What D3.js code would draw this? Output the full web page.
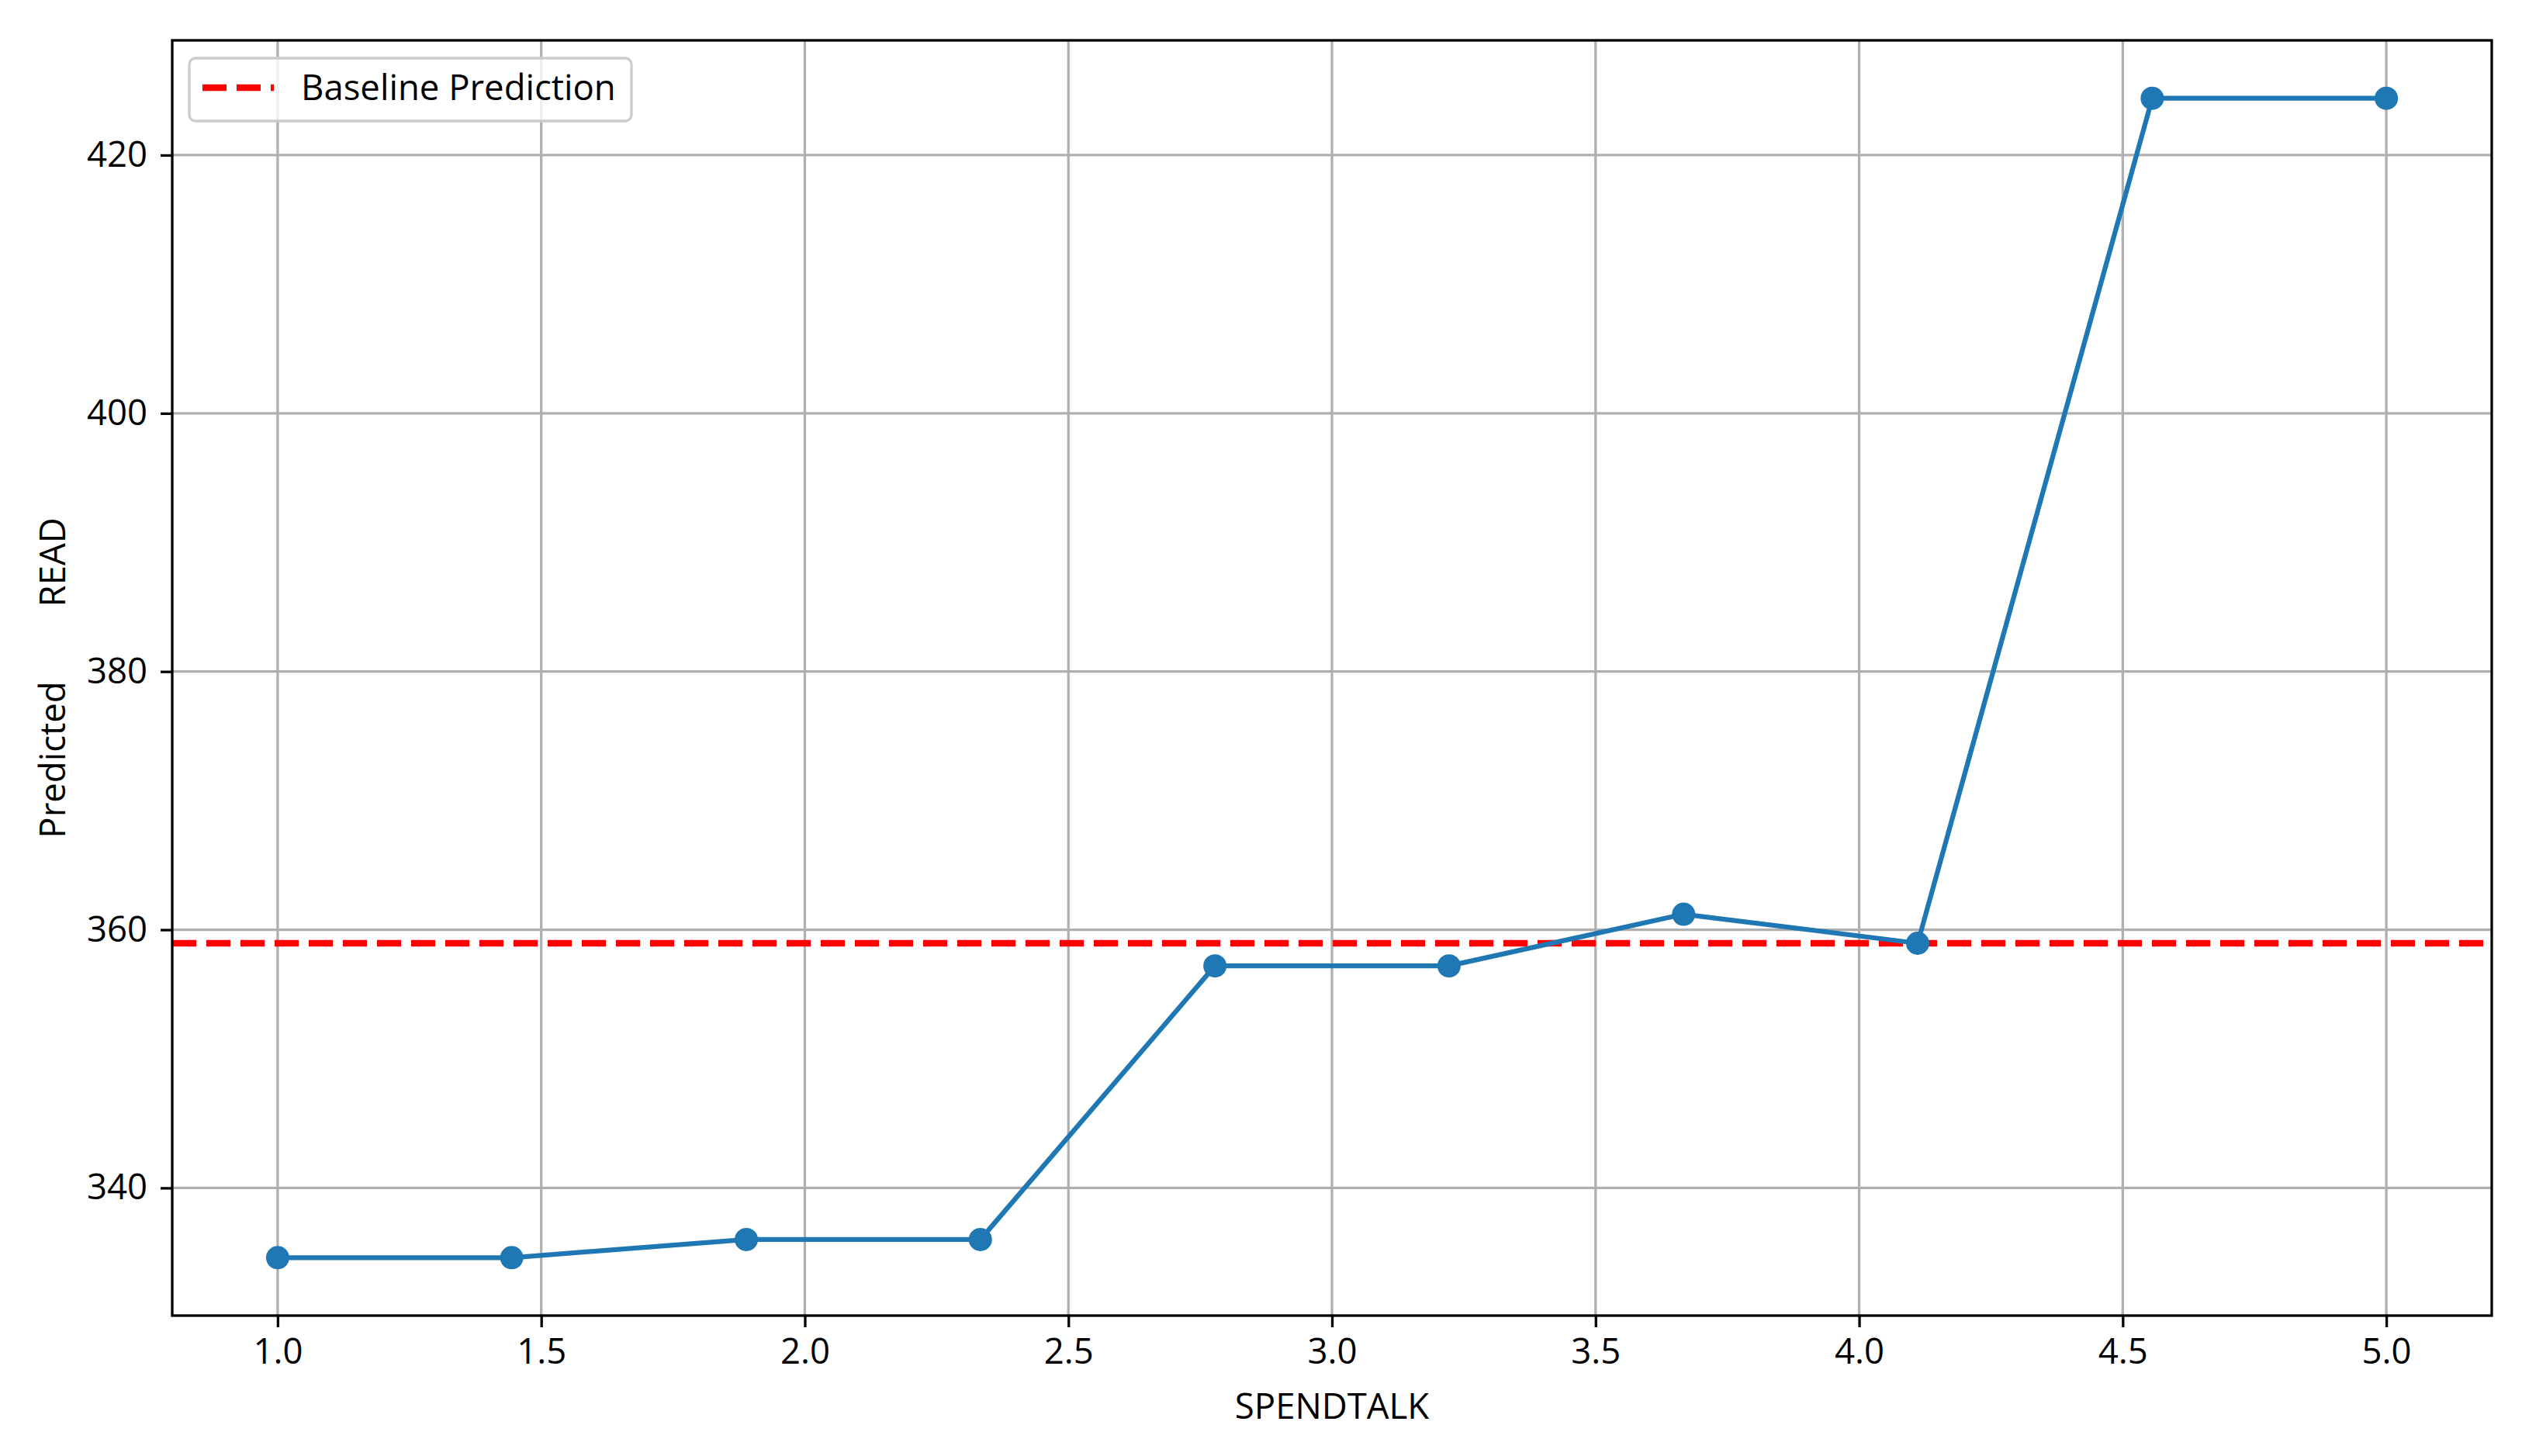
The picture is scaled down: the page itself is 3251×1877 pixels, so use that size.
<!DOCTYPE html>
<html>
<head>
<meta charset="utf-8">
<script src="https://cdn.jsdelivr.net/npm/d3@7/dist/d3.min.js"></script>
<style>
  html, body { margin: 0; padding: 0; background: #ffffff; }
  svg { display: block; }
  text { font-family: "Open Sans", "Noto Sans", sans-serif; fill: #000; }
</style>
</head>
<body>
<svg id="chart" width="3251" height="1877"></svg>
<script>
// ---- data ----
const spendtalk = [1.0, 1.444, 1.889, 2.333, 2.778, 3.222, 3.667, 4.111, 4.556, 5.0];
const predictedRead = [334.6, 334.6, 336.0, 336.0, 357.2, 357.2, 361.2, 358.95, 424.4, 424.4];
const baselinePrediction = 358.95;
const xTicks = [1.0, 1.5, 2.0, 2.5, 3.0, 3.5, 4.0, 4.5, 5.0];
const yTicks = [340, 360, 380, 400, 420];
const xLabel = "SPENDTALK";
const yLabelParts = ["Predicted", "READ"];
const legendLabel = "Baseline Prediction";

// ---- layout ----
const plot = { left: 222, right: 3212, top: 52, bottom: 1696 };
const blue = "#1f77b4";
const fontSize = 45.5;

const svg = d3.select("#chart");

const xMin = d3.min(spendtalk), xMax = d3.max(spendtalk);
const xPad = (xMax - xMin) * 0.05;
const yMin = d3.min(predictedRead), yMax = d3.max(predictedRead);
const yPad = (yMax - yMin) * 0.05;

const x = d3.scaleLinear().domain([xMin - xPad, xMax + xPad]).range([plot.left, plot.right]);
const y = d3.scaleLinear().domain([yMin - yPad, yMax + yPad]).range([plot.bottom, plot.top]);

// grid
const grid = svg.append("g");
grid.selectAll("line.vg").data(xTicks).enter().append("line")
  .attr("x1", d => x(d)).attr("x2", d => x(d))
  .attr("y1", plot.top).attr("y2", plot.bottom)
  .attr("stroke", "#b0b0b0").attr("stroke-width", 3.3);
grid.selectAll("line.hg").data(yTicks).enter().append("line")
  .attr("x1", plot.left).attr("x2", plot.right)
  .attr("y1", d => y(d)).attr("y2", d => y(d))
  .attr("stroke", "#b0b0b0").attr("stroke-width", 3.3);

// clip
svg.append("clipPath").attr("id", "clip").append("rect")
  .attr("x", plot.left).attr("y", plot.top)
  .attr("width", plot.right - plot.left).attr("height", plot.bottom - plot.top);

const content = svg.append("g").attr("clip-path", "url(#clip)");

// baseline
content.append("line")
  .attr("x1", plot.left).attr("x2", plot.right)
  .attr("y1", y(baselinePrediction)).attr("y2", y(baselinePrediction))
  .attr("stroke", "#ff0000").attr("stroke-width", 8.3)
  .attr("stroke-dasharray", "31,13");

// line + markers
const line = d3.line().x((d, i) => x(spendtalk[i])).y(d => y(d));
content.append("path").datum(predictedRead)
  .attr("d", line).attr("fill", "none")
  .attr("stroke", blue).attr("stroke-width", 6.25)
  .attr("stroke-linejoin", "round").attr("stroke-linecap", "square");
content.selectAll("circle").data(predictedRead).enter().append("circle")
  .attr("cx", (d, i) => x(spendtalk[i])).attr("cy", d => y(d))
  .attr("r", 15).attr("fill", blue);

// axes
const xAxis = d3.axisBottom(x).tickValues(xTicks).tickFormat(d3.format(".1f"))
  .tickSizeInner(15).tickSizeOuter(0).tickPadding(15);
const gx = svg.append("g").attr("transform", `translate(0,${plot.bottom})`).call(xAxis);
gx.select(".domain").remove();
gx.selectAll(".tick line").attr("stroke", "#000").attr("stroke-width", 3.3);
gx.selectAll(".tick text").attr("font-size", fontSize).attr("font-family", '"Open Sans", sans-serif').attr("fill", "#000");

const yAxis = d3.axisLeft(y).tickValues(yTicks).tickFormat(d3.format("d"))
  .tickSizeInner(15).tickSizeOuter(0).tickPadding(17);
const gy = svg.append("g").attr("transform", `translate(${plot.left},0)`).call(yAxis);
gy.select(".domain").remove();
gy.selectAll(".tick line").attr("stroke", "#000").attr("stroke-width", 3.3);
gy.selectAll(".tick text").attr("font-size", fontSize).attr("font-family", '"Open Sans", sans-serif').attr("fill", "#000");

// frame
svg.append("rect")
  .attr("x", plot.left).attr("y", plot.top)
  .attr("width", plot.right - plot.left).attr("height", plot.bottom - plot.top)
  .attr("fill", "none").attr("stroke", "#000").attr("stroke-width", 3.3);

// axis labels
svg.append("text")
  .attr("x", (plot.left + plot.right) / 2).attr("y", 1829)
  .attr("text-anchor", "middle").attr("font-size", fontSize)
  .text(xLabel);

const yl = svg.append("text")
  .attr("transform", `translate(84, ${(plot.top + plot.bottom) / 2}) rotate(-90)`)
  .attr("text-anchor", "middle").attr("font-size", fontSize);
yl.append("tspan").text(yLabelParts[0]);
yl.append("tspan").attr("dx", 96).text(yLabelParts[1]);

// legend
const lg = svg.append("g");
lg.append("rect")
  .attr("x", 244).attr("y", 75).attr("width", 570).attr("height", 81)
  .attr("rx", 8).attr("ry", 8)
  .attr("fill", "#ffffff").attr("fill-opacity", 0.8)
  .attr("stroke", "#cccccc").attr("stroke-width", 3.3);
lg.append("line")
  .attr("x1", 261).attr("x2", 353).attr("y1", 113).attr("y2", 113)
  .attr("stroke", "#ff0000").attr("stroke-width", 8.3)
  .attr("stroke-dasharray", "31,13");
lg.append("text")
  .attr("x", 388).attr("y", 129).attr("font-size", fontSize)
  .text(legendLabel);
</script>
</body>
</html>
